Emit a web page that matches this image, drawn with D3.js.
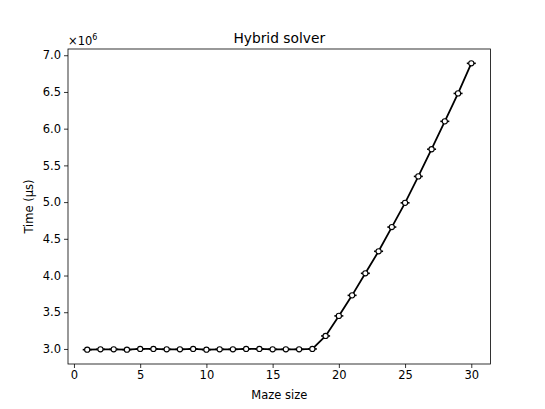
<!DOCTYPE html>
<html>
<head>
<meta charset="utf-8">
<script src="https://cdn.jsdelivr.net/npm/d3@7"></script>
<style>
  body { margin: 0; background: #fff; }
  text { font-family: "DejaVu Sans", sans-serif; fill: #000; }
</style>
</head>
<body>
<div id="chart"></div>
<script>
// Data
const mazeSizes = d3.range(1, 31);
const times = [
  2.99e6, 2.995e6, 2.995e6, 2.99e6, 3.0e6, 3.0e6, 2.995e6, 2.995e6, 3.0e6, 2.99e6,
  2.995e6, 2.995e6, 3.0e6, 3.0e6, 2.995e6, 2.995e6, 2.995e6, 3.0e6,
  3.177e6, 3.45e6, 3.73e6, 4.03e6, 4.33e6, 4.66e6, 4.99e6, 5.35e6, 5.72e6, 6.10e6, 6.48e6, 6.89e6
];
const xTicks = [0, 5, 10, 15, 20, 25, 30];
const yTicks = [3.0e6, 3.5e6, 4.0e6, 4.5e6, 5.0e6, 5.5e6, 6.0e6, 6.5e6, 7.0e6];

const width = 545;
const height = 409;
const margin = { left: 68, right: 54.5, top: 49, bottom: 45 };

const svg = d3.select('#chart')
    .append('svg')
    .attr('width', width)
    .attr('height', height);

// Matplotlib-like 5% padding
const xExt = d3.extent(mazeSizes);
const xPad = (xExt[1] - xExt[0]) * 0.05;
const yExt = d3.extent(times);
const yPad = (yExt[1] - yExt[0]) * 0.05;

const x = d3.scaleLinear()
    .domain([xExt[0] - xPad, xExt[1] + xPad])
    .range([margin.left, width - margin.right]);

const y = d3.scaleLinear()
    .domain([yExt[0] - yPad, yExt[1] + yPad])
    .range([height - margin.bottom, margin.top]);

// Axes
const xAxis = svg.append('g')
    .attr('transform', `translate(0,${height - margin.bottom})`)
    .call(d3.axisBottom(x).tickValues(xTicks).tickSize(4).tickPadding(3).tickFormat(d3.format('d')));

const yAxis = svg.append('g')
    .attr('transform', `translate(${margin.left},0)`)
    .call(d3.axisLeft(y).tickValues(yTicks).tickSize(4).tickPadding(3).tickFormat(d => (d / 1e6).toFixed(1)));

[xAxis, yAxis].forEach(g => {
    g.select('.domain').remove();
    g.selectAll('.tick line').attr('stroke', '#000').attr('stroke-width', 0.8);
    g.selectAll('.tick text').style('font-size', '11.5px').style('font-family', '"DejaVu Sans", sans-serif');
});

// Frame
svg.append('rect')
    .attr('x', margin.left)
    .attr('y', margin.top)
    .attr('width', width - margin.left - margin.right)
    .attr('height', height - margin.top - margin.bottom)
    .attr('fill', 'none')
    .attr('stroke', '#000')
    .attr('stroke-width', 0.8);

// Line
const pts = mazeSizes.map((d, i) => ({ n: d, t: times[i] }));

svg.append('path')
    .datum(pts)
    .attr('fill', 'none')
    .attr('stroke', '#000')
    .attr('stroke-width', 1.8)
    .attr('d', d3.line().x(d => x(d.n)).y(d => y(d.t)));

// small horizontal caps
svg.append('g')
    .selectAll('line')
    .data(pts)
    .enter()
    .append('line')
    .attr('x1', d => x(d.n) - 4.5)
    .attr('x2', d => x(d.n) + 4.5)
    .attr('y1', d => y(d.t))
    .attr('y2', d => y(d.t))
    .attr('stroke', '#000')
    .attr('stroke-width', 1.6);

// markers
svg.append('g')
    .selectAll('circle')
    .data(pts)
    .enter()
    .append('circle')
    .attr('cx', d => x(d.n))
    .attr('cy', d => y(d.t))
    .attr('r', 2.6)
    .attr('fill', '#fff')
    .attr('stroke', '#000')
    .attr('stroke-width', 1.1);

// Title
svg.append('text')
    .attr('x', (margin.left + width - margin.right) / 2)
    .attr('y', 43)
    .attr('text-anchor', 'middle')
    .style('font-size', '13.8px')
    .text('Hybrid solver');

// Offset text
const off = svg.append('text')
    .attr('x', margin.left)
    .attr('y', 45)
    .style('font-size', '11.5px');
off.append('tspan').text('×10');
off.append('tspan').attr('dy', -5).style('font-size', '8px').text('6');

// Axis labels
svg.append('text')
    .attr('x', (margin.left + width - margin.right) / 2)
    .attr('y', 399)
    .attr('text-anchor', 'middle')
    .style('font-size', '11.5px')
    .text('Maze size');

svg.append('text')
    .attr('transform', `translate(33,${(margin.top + height - margin.bottom) / 2}) rotate(-90)`)
    .attr('text-anchor', 'middle')
    .style('font-size', '11.5px')
    .text('Time (μs)');
</script>
</body>
</html>
